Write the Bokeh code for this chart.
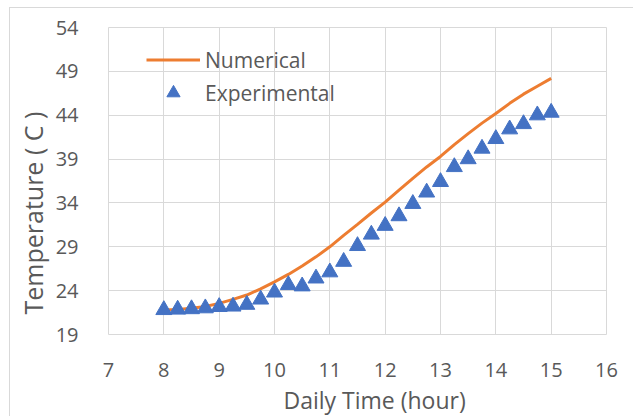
from bokeh.plotting import figure
from bokeh.models import Range1d, FixedTicker, Legend, LegendItem, Title
from bokeh.embed import file_html
from bokeh.resources import INLINE

# ---- data ----
num_x = [8.0, 8.25, 8.5, 8.75, 9.0, 9.25, 9.5, 9.75, 10.0, 10.25, 10.5, 10.75,
         11.0, 11.25, 11.5, 11.75, 12.0, 12.25, 12.5, 12.75, 13.0, 13.25, 13.5,
         13.75, 14.0, 14.25, 14.5, 14.75, 15.0]
num_y = [21.8, 21.85, 22.0, 22.2, 22.55, 23.0, 23.5, 24.2, 25.0, 25.85, 26.8, 27.85,
         29.0, 30.3, 31.55, 32.85, 34.1, 35.45, 36.8, 38.1, 39.3, 40.65, 41.9,
         43.1, 44.2, 45.35, 46.4, 47.3, 48.2]
exp_x = num_x
exp_y = [21.8, 21.85, 21.9, 22.0, 22.15, 22.2, 22.4, 23.0, 23.8, 24.65, 24.5, 25.4,
         26.1, 27.3, 29.1, 30.4, 31.4, 32.5, 33.9, 35.2, 36.4, 38.1, 39.0,
         40.2, 41.3, 42.4, 43.0, 44.0, 44.3]
x_ticks = [7, 8, 9, 10, 11, 12, 13, 14, 15, 16]
y_ticks = [19, 24, 29, 34, 39, 44, 49, 54]
series_names = ["Numerical", "Experimental"]
x_title = "Daily Time (hour)"
y_title = "Temperature ( C )"

FONT = "Open Sans"
TXT = "#595959"
GRID = "#d9d9d9"

p = figure(width=624, height=409, output_backend="svg", toolbar_location=None,
           x_range=Range1d(7, 16), y_range=Range1d(19, 54),
           min_border_left=94, min_border_right=28, min_border_top=19, min_border_bottom=81)
p.styles = {"margin-left": "9px", "margin-top": "7px",
            "border-top": "1px solid #d9d9d9", "border-left": "1px solid #d9d9d9"}

p.outline_line_color = GRID
p.outline_line_width = 1
for ax in (p.xaxis[0], p.yaxis[0]):
    ax.axis_line_color = None
    ax.major_tick_line_color = None
    ax.minor_tick_line_color = None
    ax.major_label_text_font = FONT
    ax.major_label_text_color = TXT
    ax.major_label_text_font_size = "20px"
p.xaxis.major_label_standoff = 22
p.yaxis.major_label_standoff = 24
p.xaxis.ticker = FixedTicker(ticks=x_ticks)
p.yaxis.ticker = FixedTicker(ticks=y_ticks)
p.xgrid.ticker = FixedTicker(ticks=x_ticks)
p.ygrid.ticker = FixedTicker(ticks=y_ticks)
p.xgrid.grid_line_color = GRID
p.ygrid.grid_line_color = GRID

r_num = p.line(num_x, num_y, line_color="#ED7D31", line_width=3)
r_exp = p.scatter(exp_x, exp_y, marker="triangle", size=16,
                  fill_color="#4472C4", line_color="#4472C4")

legend = Legend(items=[LegendItem(label=series_names[0], renderers=[r_num]),
                       LegendItem(label=series_names[1], renderers=[r_exp])],
                location=(38, 225), padding=0, margin=0, spacing=0,
                glyph_width=54, glyph_height=33, label_height=20, label_standoff=5,
                label_text_font=FONT, label_text_color=TXT, label_text_font_size="21px",
                background_fill_alpha=0, border_line_color=None)
p.add_layout(legend)

p.add_layout(Title(text=x_title, align="left", offset=175, standoff=4,
                   text_font=FONT, text_color=TXT, text_font_size="23px",
                   text_font_style="normal"), "below")
p.add_layout(Title(text=y_title, align="left", offset=20, standoff=6,
                   text_font=FONT, text_color=TXT, text_font_size="25px",
                   text_font_style="normal"), "left")

open("out.html", "w").write(file_html(p, INLINE))
